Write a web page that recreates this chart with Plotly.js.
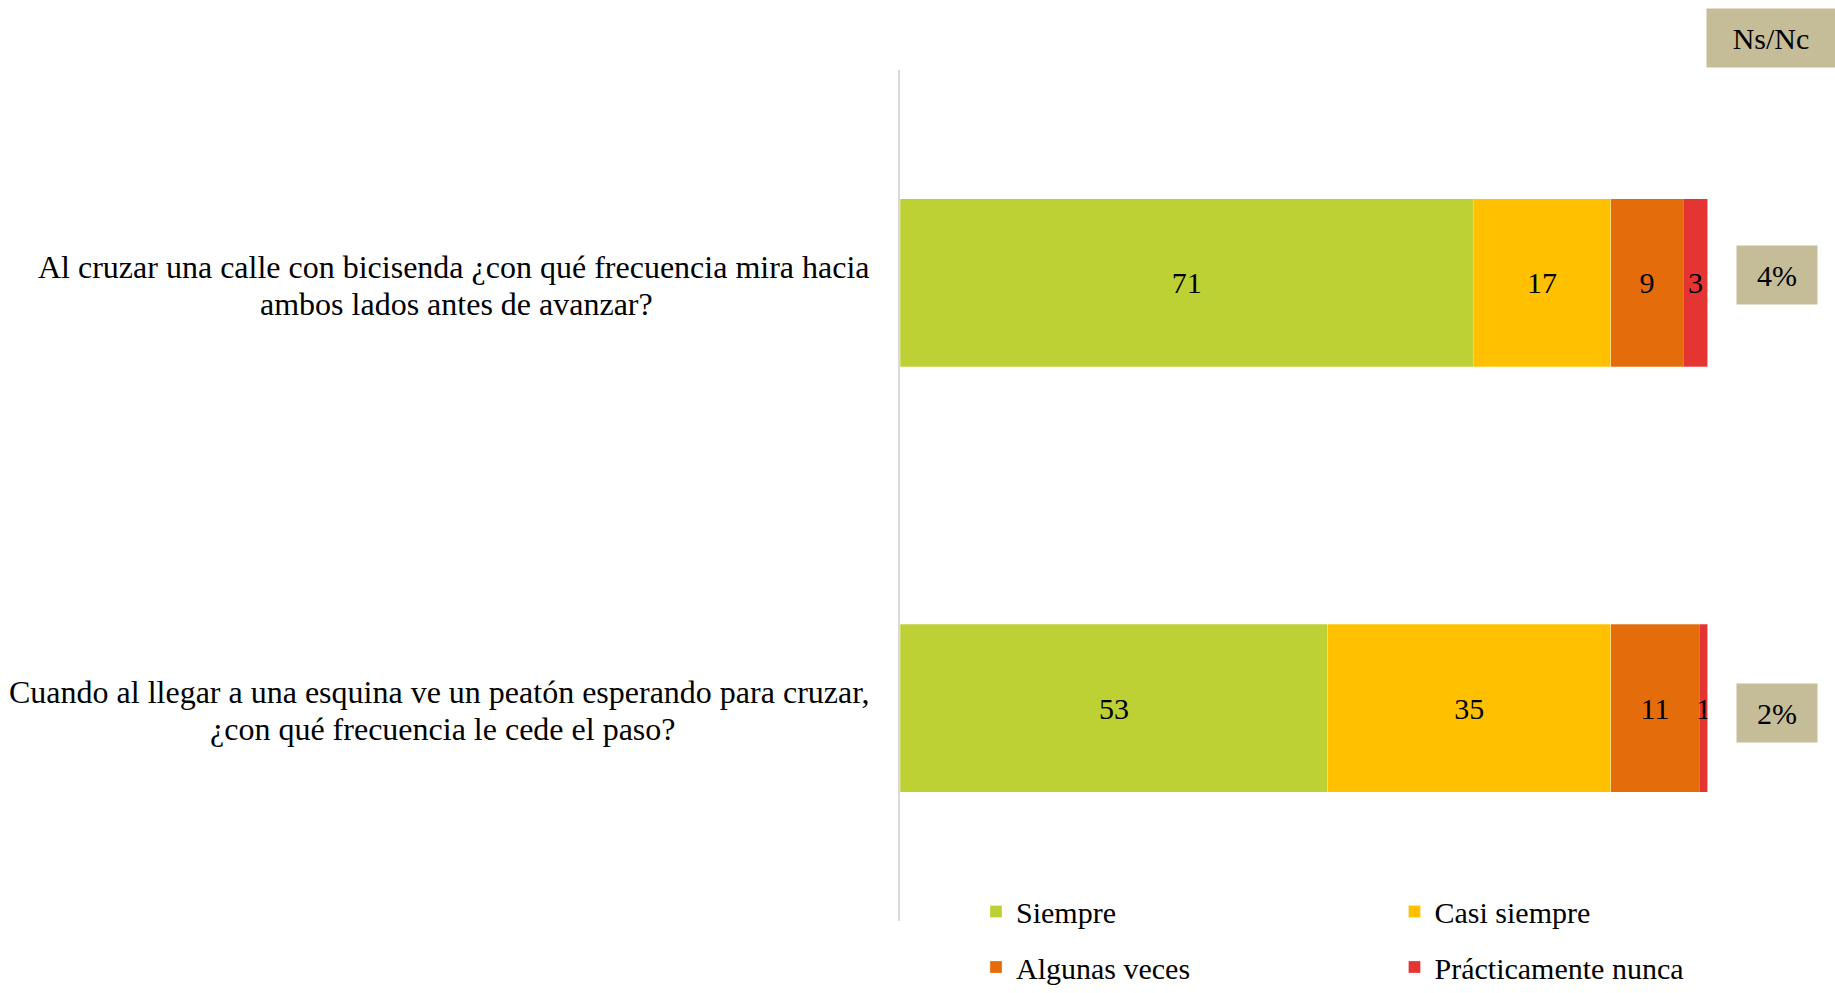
<!DOCTYPE html>
<html>
<head>
<meta charset="utf-8">
<script src="https://cdn.plot.ly/plotly-3.0.1.min.js"></script>
<style>
  html, body { margin: 0; padding: 0; background: #ffffff; }
  #chart { width: 1835px; height: 993px; }
</style>
</head>
<body>
<div id="chart"></div>
<script>
// ---- Data ----
const categories = [
  "Al cruzar una calle con bicisenda ¿con qué frecuencia mira hacia ambos lados antes de avanzar?",
  "Cuando al llegar a una esquina ve un peatón esperando para cruzar, ¿con qué frecuencia le cede el paso?"
];
const labelLines = [
  ["Al cruzar una calle con bicisenda ¿con qué frecuencia mira hacia", "ambos lados antes de avanzar?"],
  ["Cuando al llegar a una esquina ve un peatón esperando para cruzar,", "¿con qué frecuencia le cede el paso?"]
];
const seriesNames = ["Siempre", "Casi siempre", "Algunas veces", "Prácticamente nunca"];
const siempre = [71, 53];
const casiSiempre = [17, 35];
const algunasVeces = [9, 11];
const practicamenteNunca = [3, 1];
const nsnc = [4, 2];
const nsncHeader = "Ns/Nc";

// ---- Styles ----
const colors = ["#BDD134", "#FFC000", "#E46C0A", "#E53532"];
const FONT = "Liberation Serif, Times New Roman, serif";
const seriesValues = [siempre, casiSiempre, algunasVeces, practicamenteNunca];
const legendIds = ["legend", "legend2", "legend3", "legend4"];

const traces = seriesValues.map((vals, i) => ({
  type: "bar",
  orientation: "h",
  name: seriesNames[i],
  y: categories,
  x: vals,
  text: vals.map(v => String(v)),
  textposition: "inside",
  insidetextanchor: "middle",
  textangle: 0,
  constraintext: "none",
  textfont: { family: FONT, size: 30, color: "#000000" },
  marker: { color: colors[i], line: { color: "rgba(255,255,255,0.45)", width: 0.6 } },
  legend: legendIds[i],
  hoverinfo: "skip"
}));

const W = 1835, H = 993;
const annotations = [];
categories.forEach((cat, i) => {
  annotations.push({
    xref: "paper", yref: "y", x: 872 / W, y: cat, xanchor: "right", yanchor: "middle",
    yshift: 16, text: labelLines[i][0], showarrow: false,
    font: { family: FONT, size: 32, color: "#000000" }
  });
  annotations.push({
    xref: "paper", yref: "y", x: (i === 0 ? 456 : 442) / W, y: cat, xanchor: "center", yanchor: "middle",
    yshift: -21, text: labelLines[i][1], showarrow: false,
    font: { family: FONT, size: 32, color: "#000000" }
  });
  annotations.push({
    xref: "paper", yref: "y", x: 1777 / W, y: cat, xanchor: "center", yanchor: "middle",
    yshift: i === 0 ? 8 : -5, text: nsnc[i] + "%", showarrow: false,
    bgcolor: "#C4BD97", width: 80, height: 58, borderpad: 0,
    font: { family: FONT, size: 30, color: "#000000" }
  });
});
annotations.push({
  xref: "paper", yref: "paper", x: 1771 / W, y: 1 - 38 / H, xanchor: "center", yanchor: "middle",
  text: nsncHeader, showarrow: false, bgcolor: "#C4BD97", width: 128, height: 58, borderpad: 0,
  font: { family: FONT, size: 30, color: "#000000" }
});

const legendBase = {
  orientation: "v", bgcolor: "rgba(0,0,0,0)", borderwidth: 0,
  font: { family: FONT, size: 30, color: "#000000" },
  xanchor: "left", itemclick: false, itemdoubleclick: false
};
const col1 = 976 / W, col2 = (976 + 418.5) / W;
const row1 = 1 - 911.5 / H;

const layout = {
  width: W, height: H,
  margin: { l: 0, r: 0, t: 0, b: 0, pad: 0 },
  paper_bgcolor: "#ffffff", plot_bgcolor: "rgba(0,0,0,0)",
  barmode: "stack",
  bargap: 0.605,
  font: { family: FONT, size: 30, color: "#000000" },
  xaxis: {
    domain: [900 / W, 1707.5 / W],
    range: [0, 100], showgrid: false, zeroline: false, showticklabels: false, showline: false, fixedrange: true
  },
  yaxis: {
    domain: [72 / H, 923 / H],
    type: "category", categoryorder: "array", categoryarray: categories,
    range: [1.5, -0.5], showticklabels: false, ticks: "", showgrid: false, zeroline: false,
    showline: true, linecolor: "#D9D9D9", linewidth: 2, fixedrange: true
  },
  showlegend: true,
  legend: Object.assign({}, legendBase, { x: col1, y: row1, yanchor: "middle" }),
  legend2: Object.assign({}, legendBase, { x: col2, y: row1, yanchor: "middle" }),
  legend3: Object.assign({}, legendBase, { x: col1, y: 0, yanchor: "bottom" }),
  legend4: Object.assign({}, legendBase, { x: col2, y: 0, yanchor: "bottom" }),
  annotations: annotations
};

Plotly.newPlot("chart", traces, layout, { displayModeBar: false, staticPlot: true });
</script>
</body>
</html>
